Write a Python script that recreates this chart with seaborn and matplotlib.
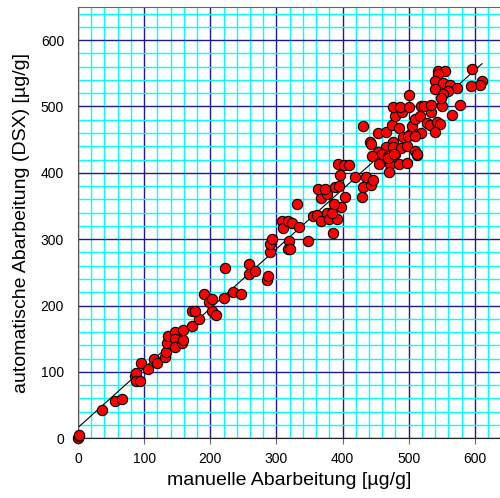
import numpy as np
import pandas as pd
import matplotlib
matplotlib.use('Agg')
import matplotlib.pyplot as plt
from matplotlib.ticker import MultipleLocator
import seaborn as sns

# manual vs automatic (DSX) processing, values in µg/g
manuell = [
    0, 1, 2, 36, 56, 66,
    86, 88, 88, 94, 96, 106, 115, 119,
    131, 133, 135, 136, 147, 147, 147, 157, 158, 158,
    173, 183, 172, 177, 202, 209,
    190, 198, 202, 220, 235, 247,
    222, 259, 259, 268, 285, 287, 291, 290, 293,
    309, 310, 317, 324, 334, 319, 318, 321, 348,
    331, 356, 361, 368, 377, 380, 391, 386, 384, 398, 387, 404,
    368, 377, 363, 373, 388, 395, 396, 393, 402, 410,
    419, 430, 431, 436, 443, 446,
    441, 443, 476, 466, 454, 459, 445, 469, 479, 476, 489, 497, 510, 513,
    455, 471, 485, 498, 470, 468, 478, 512,
    431, 453, 465, 474, 480, 490, 486, 505, 509, 517, 534, 527, 532, 543, 548,
    540, 519, 491, 499, 509,
    476, 487, 500, 500, 518, 523, 534, 551, 578, 566,
    545, 555, 545, 596, 611, 608, 594, 539, 552, 562, 573, 540, 559, 552, 549,
]
automatisch = [
    0, 3, 5, 43, 56, 59,
    94, 98, 86, 87, 114, 105, 119, 113,
    123, 130, 144, 154, 160, 149, 138, 143, 148, 163,
    169, 179, 192, 192, 192, 185,
    218, 206, 210, 212, 221, 217,
    257, 262, 247, 252, 239, 244, 281, 293, 300,
    327, 317, 327, 325, 319, 298, 285, 285, 298,
    353, 335, 336, 327, 339, 330, 330, 310, 339, 349, 353, 364,
    362, 368, 376, 376, 378, 380, 397, 413, 412, 412,
    394, 363, 378, 393, 382, 389,
    447, 443, 446, 439, 432, 429, 426, 426, 429, 439, 437, 440, 433, 427,
    413, 414, 414, 415, 401, 423, 428, 429,
    471, 460, 461, 472, 485, 492, 468, 470, 481, 486, 492, 475, 472, 476, 473,
    462, 460, 454, 456, 456,
    499, 499, 499, 518, 500, 501, 503, 501, 502, 487,
    554, 554, 549, 557, 539, 533, 531, 538, 536, 533, 528, 527, 524, 519, 513,
]

df = pd.DataFrame({'manuell': manuell, 'automatisch': automatisch})

sns.set_style('white')
plt.rcParams['font.family'] = ['Liberation Sans', 'DejaVu Sans']
plt.rcParams['text.color'] = 'black'
plt.rcParams['axes.labelcolor'] = 'black'

fig = plt.figure(figsize=(5.0, 4.98), dpi=100)
ax = fig.add_axes([0.156, 0.120, 0.844, 0.866])

sns.regplot(data=df, x='manuell', y='automatisch', ax=ax, ci=None, truncate=True,
            scatter_kws=dict(s=55, color='#ff0000', edgecolor='black', linewidths=0.8,
                             alpha=1, zorder=3, clip_on=False),
            line_kws=dict(color='black', lw=0.8, zorder=2))

ax.set_xlim(0, 638)
ax.set_ylim(0, 650)
ax.xaxis.set_major_locator(MultipleLocator(100))
ax.yaxis.set_major_locator(MultipleLocator(100))
ax.xaxis.set_minor_locator(MultipleLocator(20))
ax.yaxis.set_minor_locator(MultipleLocator(20))

ax.set_axisbelow(True)
ax.grid(which='minor', color='#00ffff', lw=1.0)
ax.grid(which='major', color='#1c1c8c', lw=1.0)

ax.tick_params(which='minor', length=0)
ax.tick_params(which='major', direction='out', length=4, color='#666666',
               labelcolor='black', labelsize=10)
ax.tick_params(axis='x', bottom=True, pad=6)
ax.tick_params(axis='y', left=False, pad=6)

ax.spines['right'].set_visible(False)
ax.spines['top'].set_color('#666666')
ax.spines['left'].set_color('#555555')
ax.spines['bottom'].set_color('#222222')

ax.set_xlabel('manuelle Abarbeitung [µg/g]', fontsize=14, labelpad=4)
ax.set_ylabel('automatische Abarbeitung (DSX) [µg/g]', fontsize=14, labelpad=8)

fig.savefig('out.png', dpi=100)
